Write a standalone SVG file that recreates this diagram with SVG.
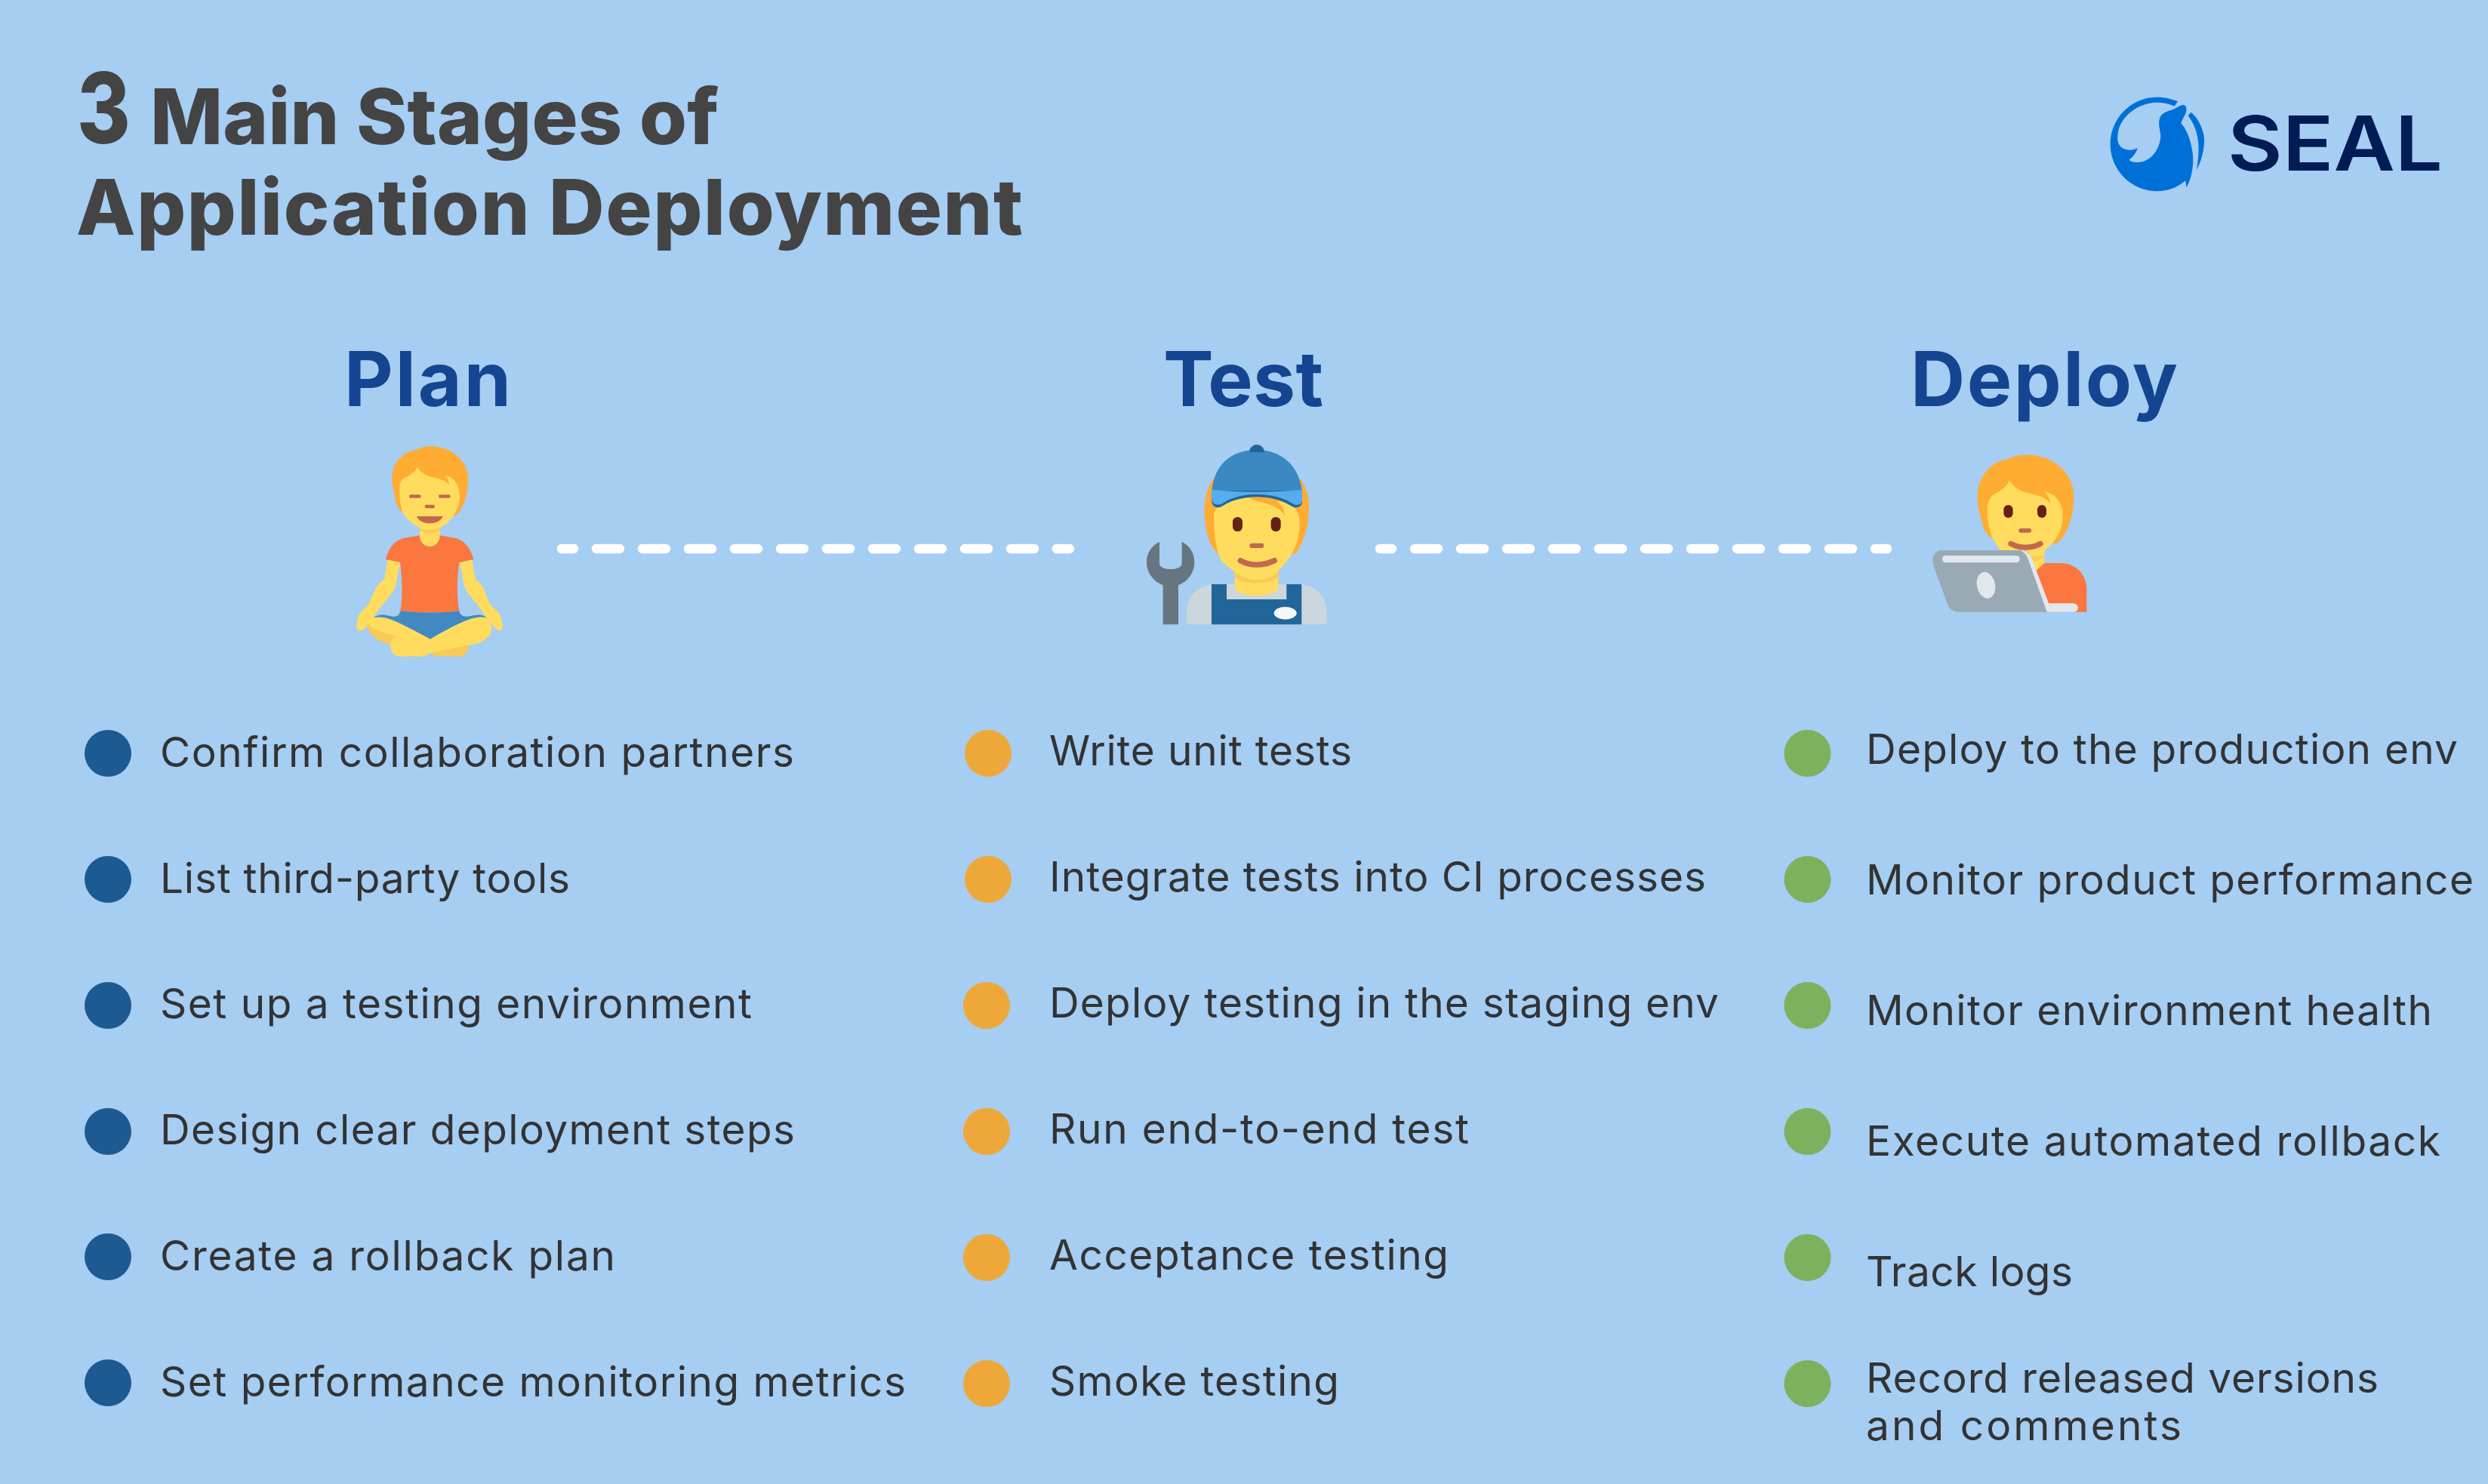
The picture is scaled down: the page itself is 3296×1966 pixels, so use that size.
<svg xmlns="http://www.w3.org/2000/svg" width="3296" height="1966" viewBox="0 0 3296 1966">
<style>
text{font-family:"Inter","Noto Sans",sans-serif}
.title{font-size:102px;font-weight:800;fill:#444}
.head{font-size:100px;font-weight:700;fill:#134590}
.item{font-size:55px;font-weight:400;fill:#333}
.link{fill:none;stroke:#fff;stroke-width:12.5;stroke-linecap:round;stroke-dasharray:31 30;stroke-dashoffset:15}
.b1{fill:#1d5a92}.b2{fill:#eea839}.b3{fill:#7eb15d}
.h{fill:#ffac33}.f{fill:#ffdc5d}.s{fill:#f9ca55}.m{fill:#c1694f}.e{fill:#662113}.o{fill:#fc7640}
</style>
<rect width="3296" height="1966" fill="#a6cdf2"/>
<g id="title">
<text class="title" x="102" y="190" textLength="71" lengthAdjust="spacingAndGlyphs" style="font-size:130px">3</text>
<text class="title" x="199" y="191" textLength="753" lengthAdjust="spacing">Main Stages of</text>
<text class="title" x="101" y="311" textLength="1254" lengthAdjust="spacing">Application Deployment</text>
</g>
<g id="logo">
<g transform="translate(2760,100) scale(.33333)" fill="#0070d9">
<path d="M375 103C345 90 310 85 290 86C190 87 107 170 107 273C107 375 190 460 293 460C335 460 375 445 405 418L410 445C435 400 440 340 433 300C425 250 410 215 388 190C395 165 415 150 408 125C400 110 385 120 370 128C345 142 320 140 305 165C295 190 305 215 307 240C305 290 270 345 215 345C200 345 185 342 182 335C195 325 210 310 215 288C200 298 170 300 150 285C130 265 135 240 140 215C160 150 225 110 290 107C315 107 340 112 362 122Z"/>
<path d="M428 146L416 160C450 205 470 265 450 375C475 330 485 270 478 235C470 200 455 170 428 146Z"/>
</g>
<text x="2951" y="226" textLength="285" lengthAdjust="spacingAndGlyphs" style="font-size:100px;font-weight:600;fill:#001c54">SEAL</text>
</g>
<g id="connectors">
<path class="link" d="M744 727H1417"/>
<path class="link" d="M1828 727H2500"/>
</g>
<g id="plan">
<text class="head" x="456" y="538" textLength="221" lengthAdjust="spacing">Plan</text>
<g transform="translate(400,560) scale(.33333)">
<path class="h" d="M455 108C490 85 560 90 610 125C650 155 665 200 660 250C655 300 640 345 610 370L400 355C380 340 372 320 370 290C360 260 355 230 360 195C370 150 410 112 455 108Z"/>
<path class="f" d="M468 415H548V455C548 475 530 492 508 492C485 492 468 475 468 455Z"/>
<path class="s" d="M468 420H548V428C530 442 490 442 468 428Z"/>
<path class="f" d="M388 270C388 230 395 225 420 213C440 200 455 190 458 176C470 195 490 212 525 218C545 222 575 230 585 248C585 235 580 220 568 210C600 215 625 240 627 290C628 340 600 380 570 405C550 420 530 427 508 427C470 425 430 400 405 365C392 340 388 310 388 270Z"/>
<rect class="m" x="426" y="286" width="47" height="13" rx="6"/><rect class="m" x="543" y="286" width="47" height="13" rx="6"/><rect class="m" x="488" y="326" width="40" height="14" rx="7"/>
<path class="m" d="M455 372H561C550 392 530 400 508 400C486 400 466 392 455 372Z"/>
<path class="o" d="M468 448L400 460C365 470 342 505 333 543L390 556C400 620 400 700 391 748C450 757 570 757 625 748C615 690 615 620 625 556L682 543C672 505 650 470 615 460L548 448C548 475 530 492 508 492C485 492 468 475 468 448Z"/>
<path fill="#4289c1" d="M391 748C450 757 570 757 625 748C628 765 640 772 660 770C690 765 715 755 733 776L510 865L283 776C310 755 330 765 360 770C380 772 388 765 391 748Z"/>
<path class="f" d="M340 545L390 556L372 650C365 680 310 725 285 775L262 800C255 820 235 830 222 826C212 815 218 795 222 780C220 765 240 745 262 725C285 690 290 640 327 625Z"/>
<path class="f" d="M676 545L626 556L646 650C655 680 705 725 733 775L757 800C765 820 785 830 795 822C802 810 795 790 790 780C795 765 775 745 750 725C730 690 725 640 690 625Z"/>
<path class="s" d="M258 800C262 835 285 865 355 882L510 860L400 830Z"/>
<path class="s" d="M510 915L664 880C665 910 650 930 620 930L530 928Z"/>
<path class="f" d="M285 775C330 765 370 785 510 860C640 785 690 765 733 775C755 790 760 820 745 845C725 870 700 878 660 885L510 915C490 932 470 930 440 928C400 930 370 935 355 905C345 880 355 860 375 850C400 845 420 855 450 862L505 858C440 865 380 850 330 835C290 825 265 810 260 790Z"/>
</g>
</g>
<g id="test">
<text class="head" x="1541" y="538" textLength="212" lengthAdjust="spacing">Test</text>
<g transform="translate(1480,560) scale(.33333)">
<path fill="#66757f" d="M168 473C135 490 117 520 117 555C117 600 150 635 182 645V802H243V645C275 635 307 600 307 555C307 520 290 490 257 473V560C257 575 235 582 212 582C190 582 168 575 168 560Z"/>
<path fill="#ccd6dd" d="M276 802V750C276 690 320 650 375 642H735C790 650 832 690 832 750V802Z"/>
<path fill="#226699" d="M375 642H435V702H673V642H733V802H375Z"/>
<ellipse cx="668" cy="757" rx="45" ry="25" fill="#f5f8fa"/>
<path class="h" d="M380 225C350 270 340 330 350 400C355 450 370 490 400 520H710C745 470 765 400 762 320C760 280 745 250 730 225Z"/>
<path class="f" d="M467 590H641V650C641 675 600 688 555 688C510 688 467 675 467 650Z"/>
<path class="s" d="M467 590H641V615C600 645 510 645 467 615Z"/>
<path class="f" d="M384 370C385 340 400 320 520 297C560 320 640 320 665 368C665 345 650 325 635 310C690 320 725 340 725 400C725 470 700 530 640 590C610 620 580 625 555 625C510 625 470 600 420 555C395 525 384 450 384 370Z"/>
<path fill="#226699" d="M375 270H735V310C738 335 712 345 690 330C650 305 600 295 555 295C510 295 460 305 420 330C398 345 372 335 375 300Z"/>
<path fill="#3b88c3" d="M376 270C385 170 450 108 555 108C660 108 725 180 734 270Z"/>
<path fill="#55acee" d="M375 266C490 278 620 278 735 266V305C735 328 715 332 695 320C650 292 600 285 555 285C510 285 460 292 420 320C400 332 375 325 375 300Z"/>
<path fill="#226699" d="M525 117C525 100 540 87 555 87C570 87 585 100 585 117Z"/>
<rect class="e" x="459" y="375" width="39" height="57" rx="19"/><rect class="e" x="611" y="375" width="39" height="57" rx="19"/>
<rect class="m" x="526" y="479" width="57" height="19" rx="9"/>
<path d="M490 548C530 570 580 570 625 548" fill="none" stroke="#c1694f" stroke-width="22" stroke-linecap="round"/>
</g>
</g>
<g id="deploy">
<text class="head" x="2531" y="538" textLength="354" lengthAdjust="spacing">Deploy</text>
<g transform="translate(2520,580) scale(.33333)">
<path class="h" d="M420 85C460 60 540 60 600 95C655 130 685 180 682 240C680 310 660 380 615 420L350 395C330 380 318 350 315 320C300 280 295 240 302 200C315 140 365 90 420 85Z"/>
<path class="f" d="M400 440H565V500L530 530Z"/>
<path class="s" d="M500 470H565V475L530 492Z"/>
<path class="o" d="M530 530L565 498H630C690 498 733 545 733 600V692H560Z"/>
<path class="f" d="M338 290C338 250 350 232 375 218C400 205 420 190 425 168C440 195 470 215 510 222C545 228 575 240 588 262C588 245 580 225 562 213C610 220 638 260 638 310C638 370 610 410 570 445C530 480 470 485 420 470C370 440 338 370 338 290Z"/>
<rect class="e" x="403" y="267" width="37" height="51" rx="18"/><rect class="e" x="537" y="267" width="36" height="51" rx="18"/>
<rect class="m" x="463" y="360" width="50" height="17" rx="8"/>
<path d="M432 421C465 440 515 440 549 421" fill="none" stroke="#c1694f" stroke-width="22" stroke-linecap="round"/>
<path fill="#99aab5" d="M160 447H480C500 447 508 465 515 485L578 692H225C200 692 185 680 178 655L125 510C112 470 130 447 160 447Z"/>
<path fill="#e1e8ed" d="M470 447C495 447 505 460 515 480L582 658H680C705 660 705 692 680 692H575L510 510C500 480 495 460 470 447Z"/>
<rect x="159" y="468" width="308" height="28" rx="14" fill="#e1e8ed"/>
<ellipse cx="333" cy="586" rx="36" ry="53" transform="rotate(-12 333 586)" fill="#e1e8ed"/>
</g>
</g>
<g id="plan-items">
<circle class="b1" cx="143" cy="998" r="31"/><text class="item" x="212" y="1016" textLength="840" lengthAdjust="spacing">Confirm collaboration partners</text>
<circle class="b1" cx="143" cy="1165" r="31"/><text class="item" x="212" y="1183" textLength="543" lengthAdjust="spacing">List third-party tools</text>
<circle class="b1" cx="143" cy="1332" r="31"/><text class="item" x="212" y="1349" textLength="784" lengthAdjust="spacing">Set up a testing environment</text>
<circle class="b1" cx="143" cy="1499" r="31"/><text class="item" x="212" y="1516" textLength="841" lengthAdjust="spacing">Design clear deployment steps</text>
<circle class="b1" cx="143" cy="1665" r="31"/><text class="item" x="212" y="1683" textLength="603" lengthAdjust="spacing">Create a rollback plan</text>
<circle class="b1" cx="143" cy="1832" r="31"/><text class="item" x="212" y="1850" textLength="988" lengthAdjust="spacing">Set performance monitoring metrics</text>
</g>
<g id="test-items">
<circle class="b2" cx="1309" cy="998" r="31"/><text class="item" x="1390" y="1014" textLength="401" lengthAdjust="spacing">Write unit tests</text>
<circle class="b2" cx="1309" cy="1165" r="31"/><text class="item" x="1390" y="1181" textLength="870" lengthAdjust="spacing">Integrate tests into CI processes</text>
<circle class="b2" cx="1307" cy="1332" r="31"/><text class="item" x="1390" y="1348" textLength="887" lengthAdjust="spacing">Deploy testing in the staging env</text>
<circle class="b2" cx="1307" cy="1499" r="31"/><text class="item" x="1390" y="1515" textLength="556" lengthAdjust="spacing">Run end-to-end test</text>
<circle class="b2" cx="1307" cy="1666" r="31"/><text class="item" x="1390" y="1682" textLength="529" lengthAdjust="spacing">Acceptance testing</text>
<circle class="b2" cx="1307" cy="1833" r="31"/><text class="item" x="1390" y="1849" textLength="384" lengthAdjust="spacing">Smoke testing</text>
</g>
<g id="deploy-items">
<circle class="b3" cx="2394.500" cy="998" r="31"/><text class="item" x="2472" y="1012" textLength="784" lengthAdjust="spacing">Deploy to the production env</text>
<circle class="b3" cx="2394.500" cy="1165" r="31"/><text class="item" x="2472" y="1185" textLength="805" lengthAdjust="spacing">Monitor product performance</text>
<circle class="b3" cx="2394.500" cy="1332" r="31"/><text class="item" x="2472" y="1358" textLength="750" lengthAdjust="spacing">Monitor environment health</text>
<circle class="b3" cx="2394.500" cy="1499" r="31"/><text class="item" x="2472" y="1531" textLength="761" lengthAdjust="spacing">Execute automated rollback</text>
<circle class="b3" cx="2394.500" cy="1666" r="31"/><text class="item" x="2472" y="1704" textLength="274" lengthAdjust="spacing">Track logs</text>
<circle class="b3" cx="2394.500" cy="1833" r="31"/><text class="item" x="2472" y="1845" textLength="679" lengthAdjust="spacing">Record released versions</text><text class="item" x="2472" y="1908" textLength="418" lengthAdjust="spacing">and comments</text>
</g>
</svg>
